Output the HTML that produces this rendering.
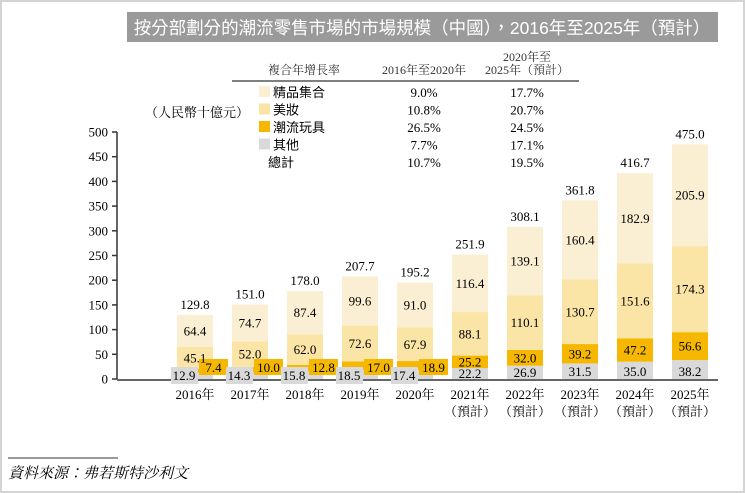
<!DOCTYPE html>
<html><head><meta charset="utf-8"><style>
body{margin:0;background:#fff}
#wrap{position:relative;width:745px;height:493px;overflow:hidden;font-family:"Liberation Serif","Noto Serif CJK SC",serif;color:#333}
</style></head><body>
<div id="wrap">
<svg id="svg" width="745" height="493" xmlns="http://www.w3.org/2000/svg">
<rect x="1" y="1" width="743" height="491" fill="#fff" stroke="#d4d4d4" stroke-width="2"/>
<rect x="127" y="12" width="591" height="30" fill="#9a9a9a"/>
<text x="422" y="34" text-anchor="middle" font-family="Liberation Sans,Noto Sans CJK TC,sans-serif" font-size="17.5" fill="#fff">按分部劃分的潮流零售市場的市場規模（中國），2016年至2025年（預計）</text>
<g font-size="12" fill="#333">
<text x="304" y="74" text-anchor="middle">複合年增長率</text>
<text x="424" y="74" text-anchor="middle">2016年至2020年</text>
<text x="527" y="61" text-anchor="middle">2020年至</text>
<text x="527" y="74" text-anchor="middle">2025年（預計）</text>
<line x1="232" y1="81" x2="579" y2="81" stroke="#555" stroke-width="1.5"/>
</g>
<g id="legend" font-size="13"></g>
<text x="145" y="117" font-size="13">（人民幣十億元）</text>
<g id="axes"></g>
<g id="bars"></g>
<line x1="8" y1="458" x2="118" y2="458" stroke="#333" stroke-width="1"/>
<text x="8" y="478" font-size="15" font-style="italic" font-family="Liberation Serif,Noto Serif CJK TC,serif">資料來源：弗若斯特沙利文</text>
</svg>
</div>
<script>
const years=["2016年","2017年","2018年","2019年","2020年","2021年","2022年","2023年","2024年","2025年"];
const forecast=[false,false,false,false,false,true,true,true,true,true];
const other=[12.9,14.3,15.8,18.5,17.4,22.2,26.9,31.5,35.0,38.2];
const toys=[7.4,10.0,12.8,17.0,18.9,25.2,32.0,39.2,47.2,56.6];
const beauty=[45.1,52.0,62.0,72.6,67.9,88.1,110.1,130.7,151.6,174.3];
const boutique=[64.4,74.7,87.4,99.6,91.0,116.4,139.1,160.4,182.9,205.9];
const totals=[129.8,151.0,178.0,207.7,195.2,251.9,308.1,361.8,416.7,475.0];
const yTicks=[0,50,100,150,200,250,300,350,400,450,500];
const segNames=["精品集合","美妝","潮流玩具","其他","總計"];
const cagr1=["9.0%","10.8%","26.5%","7.7%","10.7%"];
const cagr2=["17.7%","20.7%","24.5%","17.1%","19.5%"];
const colors={boutique:"#fbefd3",beauty:"#fae4a6",toys:"#f5b700",other:"#d9d9d9"};
const NS="http://www.w3.org/2000/svg";
const y0=379,ppu=247/500;
const Y=v=>y0-v*ppu;
const X=i=>177+i*55;
const BW=36;
function mk(tag,attrs,parent,txt){const e=document.createElementNS(NS,tag);for(const k in attrs)e.setAttribute(k,attrs[k]);if(txt!==undefined)e.textContent=txt;parent.appendChild(e);return e;}
const lg=document.getElementById('legend');
const lc=[colors.boutique,colors.beauty,colors.toys,colors.other,null];
segNames.forEach((n,i)=>{const yy=97+i*17.5;
 if(lc[i]){const r=mk('rect',{x:259,y:yy-11,width:11,height:11,fill:lc[i]},lg);
 
 }
 const t=mk('text',{x:lc[i]?273:268,y:yy,'font-family':'Liberation Sans,Noto Sans CJK TC,sans-serif'},lg,n);
 
 
 const a=mk('text',{x:424,y:yy,'text-anchor':'middle'},lg,cagr1[i]);
 
 
 const b=mk('text',{x:527,y:yy,'text-anchor':'middle'},lg,cagr2[i]);
 
 
});
const ax=document.getElementById('axes');
const yl=mk('line',{x1:117,y1:Y(500),x2:117,y2:y0,stroke:'#333','stroke-width':1.5},ax);


const xl=mk('line',{x1:117,y1:y0+1,x2:718,y2:y0+1,stroke:'#333','stroke-width':1.5},ax);


yTicks.forEach(v=>{const tk=mk('line',{x1:112,y1:Y(v),x2:117,y2:Y(v),stroke:'#333','stroke-width':1.5},ax);
 
 
 const t=mk('text',{x:108,y:Y(v)+4.5,'text-anchor':'end','font-size':13},ax,String(v));
 
 });
const bg=document.getElementById('bars');
years.forEach((yr,i)=>{const x=X(i),cx=x+BW/2;
 const segs=[[other[i],colors.other,'bar-other'],[toys[i],colors.toys,'bar-toys'],[beauty[i],colors.beauty,'bar-beauty'],[boutique[i],colors.boutique,'bar-boutique']];
 let base=0;const mids=[];
 segs.forEach(s=>{const r=mk('rect',{x:x,y:Y(base+s[0]),width:BW,height:s[0]*ppu,fill:s[1]},bg);
  
  
  mids.push(Y(base+s[0]/2));base+=s[0];});
 const tl=(tx,ty,v,nm)=>{const t=mk('text',{x:tx,y:ty,'text-anchor':'middle','font-size':13},bg,v.toFixed(1));
  
  };
 if(!forecast[i]){
  const g=mk('rect',{x:x-6,y:y0-12,width:27,height:17,fill:colors.other},bg);
  
  
  tl(x+7,y0+1,other[i],'other-value');
  const o=mk('rect',{x:x+22,y:y0-20,width:29,height:16,fill:colors.toys},bg);
  
  
  tl(x+36.5,y0-7,toys[i],'toys-value');
 } else {
  tl(cx,Math.max(mids[0]+4.5,y0-3),other[i],'other-value');
  tl(cx,mids[1]+4.5,toys[i],'toys-value');
 }
 tl(cx,mids[2]+4.5,beauty[i],'beauty-value');
 tl(cx,mids[3]+4.5,boutique[i],'boutique-value');
 tl(cx,Y(totals[i])-6,totals[i],'total-value');
 const xt=mk('text',{x:cx,y:399,'text-anchor':'middle','font-size':13},bg,yr);
 
 
 if(forecast[i]){const f=mk('text',{x:cx,y:416,'text-anchor':'middle','font-size':13},bg,'（預計）');
  
  }
});
</script>
</body></html>
